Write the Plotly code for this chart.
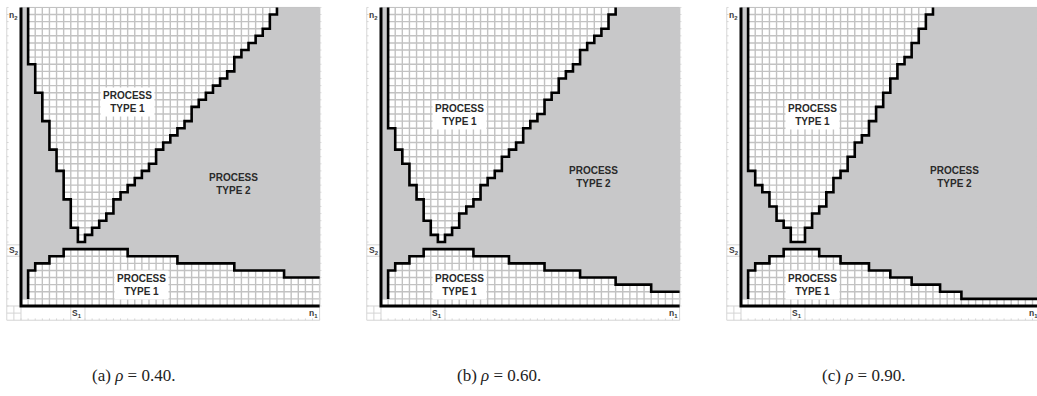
import numpy as np
import plotly.graph_objects as go

# ---------------- data (grid cells, n = 0..41 on each axis) ----------------
# row index of the top edge of the lower "Process type 1" region, per column n1 = 0..41
lower_top_a = [1, 5, 6, 6, 7, 7, 8, 8, 8, 8, 8, 8, 8, 8, 8, 7, 7, 7, 7, 7, 7, 7,
               6, 6, 6, 6, 6, 6, 6, 6, 5, 5, 5, 5, 5, 5, 5, 4, 4, 4, 4, 4]
lower_top_b = [1, 5, 6, 6, 7, 7, 8, 8, 8, 8, 8, 8, 8, 7, 7, 7, 7, 7, 6, 6, 6, 6,
               6, 5, 5, 5, 5, 5, 4, 4, 4, 4, 4, 3, 3, 3, 3, 3, 2, 2, 2, 2]
lower_top_c = [1, 5, 6, 6, 7, 7, 8, 8, 8, 8, 8, 7, 7, 7, 6, 6, 6, 6, 5, 5, 5, 4,
               4, 4, 3, 3, 3, 3, 2, 2, 2, 1, 1, 1, 1, 1, 1, 1, 1, 1, 1, 1]

# row index of the bottom edge of the upper "Process type 1" region, per column (42 = none)
upper_bottom_a = [42, 34, 30, 26, 22, 19, 15, 11, 9, 10, 11, 12, 13, 15, 16, 17, 18, 19, 20, 22, 23,
                  24, 25, 26, 28, 29, 30, 31, 32, 33, 35, 36, 37, 38, 39, 41, 42, 42, 42, 42, 42, 42]
upper_bottom_b = [42, 25, 22, 20, 17, 15, 12, 10, 9, 10, 11, 13, 14, 15, 17, 18, 19, 21, 22, 23, 25,
                  26, 27, 29, 30, 32, 33, 34, 36, 37, 38, 39, 41, 42, 42, 42, 42, 42, 42, 42, 42, 42]
upper_bottom_c = [42, 19, 17, 16, 14, 12, 11, 9, 9, 11, 13, 14, 16, 18, 19, 21, 23, 24, 26, 28, 30,
                  32, 34, 35, 37, 39, 41, 42, 42, 42, 42, 42, 42, 42, 42, 42, 42, 42, 42, 42, 42, 42]

captions = ["(a) <i>ρ</i> = 0.40.", "(b) <i>ρ</i> = 0.60.", "(c) <i>ρ</i> = 0.90."]
caption_left_px = [90, 455, 820]
region_texts = ["PROCESS<br>TYPE 1", "PROCESS<br>TYPE 2", "PROCESS<br>TYPE 1"]
region_pos_a = [(15.0, 28.7), (29.9, 17.2), (17.0, 2.9)]
region_pos_b = [(11.0, 26.9), (29.9, 18.1), (11.0, 2.9)]
region_pos_c = [(10.0, 26.9), (30.0, 18.1), (10.0, 2.9)]
axis_texts = ["n<sub>1</sub>", "n<sub>2</sub>", "S<sub>1</sub>", "S<sub>2</sub>"]
s_value = 8.0

panels = [
    (lower_top_a, upper_bottom_a, region_pos_a),
    (lower_top_b, upper_bottom_b, region_pos_b),
    (lower_top_c, upper_bottom_c, region_pos_c),
]

# ---------------- layout geometry ----------------
W, H = 1037, 396
CELL = 7.11
AXIS_X_PX = [21, 381, 741]
AXIS_Y_PX = 306
GRAY = "#c8c8c9"
GRIDC = "#c2c2c2"
FAINT = "#d4d4d4"
SANS = "Liberation Sans"

fig = go.Figure()
layout = dict(width=W, height=H, margin=dict(l=0, r=0, t=0, b=0),
              font=dict(family=SANS, size=10, color="#2a2a2a"),
              paper_bgcolor="white", plot_bgcolor="white", showlegend=False)
shapes, annotations = [], []

for p, (ltop, ubot, rpos) in enumerate(panels):
    sfx = "" if p == 0 else str(p + 1)
    xa, ya = "x" + sfx, "y" + sfx
    n = len(ltop)
    x_lo, x_hi = -2.1, n + 0.4
    left_px = AXIS_X_PX[p] + x_lo * CELL
    right_px = AXIS_X_PX[p] + x_hi * CELL
    if right_px > W:
        right_px = W
        x_hi = (W - AXIS_X_PX[p]) / CELL
    y_lo, y_hi = -2.1, n + 0.1
    top_px = AXIS_Y_PX - y_hi * CELL
    bot_px = AXIS_Y_PX - y_lo * CELL
    common = dict(visible=False, fixedrange=True, showgrid=False, zeroline=False)
    layout["xaxis" + sfx] = dict(domain=[left_px / W, right_px / W], range=[x_lo, x_hi],
                                 anchor=ya, **common)
    layout["yaxis" + sfx] = dict(domain=[1 - bot_px / H, 1 - top_px / H], range=[y_lo, y_hi],
                                 anchor=xa, **common)

    # cell grid (under the filled region)
    grid_path = " ".join(f"M{k},0L{k},{n}" for k in range(n + 1)) + " " + \
        " ".join(f"M0,{k}L{n},{k}" for k in range(n + 1))
    shapes.append(dict(type="path", path=grid_path, xref=xa, yref=ya, layer="below",
                       line=dict(color=GRIDC, width=1.4)))
    # side bands (label strips) with faint borders and ticks
    band = [f"M-2,-2L-2,{n}", f"M-2,-2L{n},-2", f"M{n},-2L{n},{n}",
            "M-1,-2L-1,0", "M-2,-1L0,-1", "M-2,0L0,0", "M0,-2L0,0",
            f"M-2,{s_value - 1}L0,{s_value - 1}", f"M-2,{s_value + 0.6}L0,{s_value + 0.6}",
            f"M{s_value - 1},-2L{s_value - 1},0", f"M{s_value + 1},-2L{s_value + 1},0"]
    band += [f"M-2,{k}L-1.75,{k}" for k in range(n + 1)]
    band += [f"M{k},-2L{k},-1.75" for k in range(n + 1)]
    band += [f"M{n},{k}L{n + 0.25},{k}" for k in range(n + 1)]
    shapes.append(dict(type="path", path=" ".join(band), xref=xa, yref=ya, layer="below",
                       line=dict(color=FAINT, width=1)))

    # process type 2 cells
    z = np.full((n, n), np.nan)
    for i in range(n):
        for j in range(ltop[i], ubot[i]):
            z[j, i] = 1.0
    fig.add_trace(go.Heatmap(z=z, x=np.arange(n) + 0.5, y=np.arange(n) + 0.5,
                             colorscale=[[0, GRAY], [1, GRAY]], showscale=False,
                             hoverinfo="skip", zsmooth=False, xaxis=xa, yaxis=ya))

    # lower boundary
    bx = [1] + list(range(1, n)) + [n]
    by = [1] + list(ltop[1:]) + [ltop[-1]]
    fig.add_trace(go.Scatter(x=bx, y=by, mode="lines", line=dict(color="black", width=2.6, shape="hv"),
                             hoverinfo="skip", xaxis=xa, yaxis=ya))
    # upper boundary
    ux, uy = [1], [n]
    for i in range(1, n):
        ux.append(i)
        uy.append(ubot[i])
        if ubot[i] >= n:
            break
    fig.add_trace(go.Scatter(x=ux, y=uy, mode="lines", line=dict(color="black", width=2.6, shape="hv"),
                             hoverinfo="skip", xaxis=xa, yaxis=ya))
    # axes
    fig.add_trace(go.Scatter(x=[0, 0, n], y=[n, 0, 0], mode="lines",
                             line=dict(color="black", width=3), hoverinfo="skip", xaxis=xa, yaxis=ya))

    # region labels
    for k, (tx, ty) in enumerate(rpos):
        annotations.append(dict(x=tx, y=ty, xref=xa, yref=ya, text=region_texts[k],
                                showarrow=False,
                                font=dict(family=SANS, size=10, color="#2a2a2a", weight="bold"),
                                bgcolor="white" if k != 1 else None, borderpad=2))
    # axis labels
    lab_font = dict(family=SANS, size=8.5, color="#3a3a3a", weight="bold")
    for text, tx, ty in [(axis_texts[0], n - 0.9, -1.05), (axis_texts[1], -1.05, n - 1.1),
                         (axis_texts[2], s_value - 0.1, -1.05), (axis_texts[3], -1.0, s_value - 0.15)]:
        annotations.append(dict(x=tx, y=ty, xref=xa, yref=ya, text=text,
                                showarrow=False, font=lab_font))

    # caption
    annotations.append(dict(x=caption_left_px[p] / W, y=1 - 375 / H, xref="paper", yref="paper",
                            xanchor="left", yanchor="middle",
                            text=captions[p], showarrow=False,
                            font=dict(family="Liberation Serif", size=17, color="#222222")))

layout["shapes"] = shapes
layout["annotations"] = annotations
fig.update_layout(**layout)
fig.write_html("out.html")
